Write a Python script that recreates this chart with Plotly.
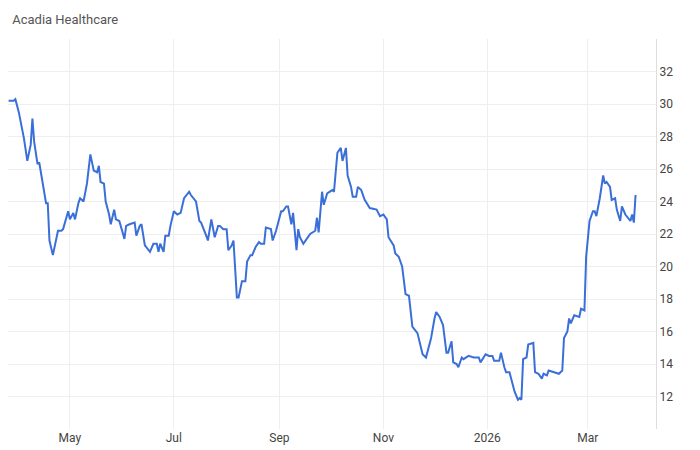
import plotly.graph_objects as go

# Acadia Healthcare daily close
dates = [
    "2025-03-26", "2025-03-29", "2025-03-30", "2025-04-01", "2025-04-04", "2025-04-06",
    "2025-04-08", "2025-04-09", "2025-04-10", "2025-04-12", "2025-04-13", "2025-04-16",
    "2025-04-17", "2025-04-18", "2025-04-19", "2025-04-21", "2025-04-24", "2025-04-26",
    "2025-04-27", "2025-04-30", "2025-05-01", "2025-05-03", "2025-05-04", "2025-05-06",
    "2025-05-07", "2025-05-09", "2025-05-11", "2025-05-13", "2025-05-15", "2025-05-17",
    "2025-05-18", "2025-05-19", "2025-05-21", "2025-05-22", "2025-05-24", "2025-05-25",
    "2025-05-27", "2025-05-28", "2025-05-30", "2025-06-02", "2025-06-03", "2025-06-05",
    "2025-06-08", "2025-06-09", "2025-06-11", "2025-06-12", "2025-06-14", "2025-06-17",
    "2025-06-19", "2025-06-21", "2025-06-22", "2025-06-23", "2025-06-25", "2025-06-26",
    "2025-06-28", "2025-06-29", "2025-07-01", "2025-07-03", "2025-07-05", "2025-07-07",
    "2025-07-10", "2025-07-11", "2025-07-14", "2025-07-16", "2025-07-17", "2025-07-20",
    "2025-07-21", "2025-07-23", "2025-07-25", "2025-07-27", "2025-07-28", "2025-07-30",
    "2025-08-01", "2025-08-02", "2025-08-04", "2025-08-05", "2025-08-07", "2025-08-08",
    "2025-08-10", "2025-08-12", "2025-08-13", "2025-08-15", "2025-08-16", "2025-08-18",
    "2025-08-20", "2025-08-21", "2025-08-23", "2025-08-24", "2025-08-27", "2025-08-28",
    "2025-08-30", "2025-09-02", "2025-09-03", "2025-09-05", "2025-09-06", "2025-09-08",
    "2025-09-09", "2025-09-11", "2025-09-12", "2025-09-13", "2025-09-15", "2025-09-17",
    "2025-09-19", "2025-09-22", "2025-09-23", "2025-09-24", "2025-09-26", "2025-09-27",
    "2025-09-29", "2025-10-02", "2025-10-03", "2025-10-05", "2025-10-07", "2025-10-08",
    "2025-10-10", "2025-10-11", "2025-10-13", "2025-10-14", "2025-10-16", "2025-10-17",
    "2025-10-19", "2025-10-21", "2025-10-24", "2025-10-28", "2025-10-30", "2025-11-01",
    "2025-11-03", "2025-11-04", "2025-11-07", "2025-11-08", "2025-11-10", "2025-11-12",
    "2025-11-14", "2025-11-16", "2025-11-18", "2025-11-21", "2025-11-24", "2025-11-26",
    "2025-11-29", "2025-12-01", "2025-12-02", "2025-12-04", "2025-12-06", "2025-12-08",
    "2025-12-09", "2025-12-11", "2025-12-12", "2025-12-14", "2025-12-15", "2025-12-17",
    "2025-12-18", "2025-12-21", "2025-12-24", "2025-12-27", "2025-12-28", "2025-12-31",
    "2026-01-02", "2026-01-04", "2026-01-05", "2026-01-08", "2026-01-09", "2026-01-11",
    "2026-01-12", "2026-01-14", "2026-01-15", "2026-01-17", "2026-01-19", "2026-01-20",
    "2026-01-21", "2026-01-22", "2026-01-24", "2026-01-25", "2026-01-28", "2026-01-29",
    "2026-01-31", "2026-02-02", "2026-02-03", "2026-02-05", "2026-02-06", "2026-02-09",
    "2026-02-12", "2026-02-14", "2026-02-15", "2026-02-17", "2026-02-18", "2026-02-19",
    "2026-02-21", "2026-02-24", "2026-02-25", "2026-02-27", "2026-02-28", "2026-03-02",
    "2026-03-04", "2026-03-05", "2026-03-06", "2026-03-08", "2026-03-10", "2026-03-11",
    "2026-03-12", "2026-03-14", "2026-03-15", "2026-03-17", "2026-03-18", "2026-03-20",
    "2026-03-21", "2026-03-23", "2026-03-26", "2026-03-27", "2026-03-28", "2026-03-29",
]
prices = [
    30.2, 30.2, 30.3, 29.5, 27.9, 26.5,
    27.5, 29.1, 27.7, 26.3, 26.4, 24.4,
    23.9, 23.9, 21.6, 20.7, 22.2, 22.2,
    22.3, 23.4, 22.9, 23.3, 22.9, 23.9,
    24.2, 24.0, 25.1, 26.9, 25.9, 25.8,
    26.2, 25.2, 25.1, 24.0, 23.2, 22.6,
    23.5, 22.9, 22.8, 21.7, 22.5, 22.6,
    22.7, 21.9, 22.5, 22.6, 21.3, 20.9,
    21.4, 21.4, 20.9, 21.4, 20.9, 21.9,
    21.9, 22.5, 23.4, 23.2, 23.3, 24.2,
    24.6, 24.4, 24.0, 22.8, 22.7, 21.9,
    21.6, 22.9, 21.8, 22.5, 22.5, 22.3,
    22.3, 21.0, 21.3, 21.6, 18.1, 18.1,
    19.1, 19.1, 20.3, 20.7, 20.7, 21.2,
    21.5, 21.4, 21.4, 22.4, 22.3, 21.6,
    22.2, 23.4, 23.4, 23.7, 23.7, 22.6,
    23.3, 21.0, 22.3, 21.8, 21.4, 21.7,
    22.0, 22.2, 23.0, 22.1, 24.6, 23.8,
    24.5, 24.7, 24.6, 27.0, 27.3, 26.5,
    27.3, 25.6, 24.9, 24.3, 24.3, 24.9,
    24.7, 24.1, 23.6, 23.5, 23.1, 23.2,
    22.9, 21.8, 21.3, 20.8, 20.6, 20.0,
    18.3, 18.2, 16.3, 15.9, 14.6, 14.4,
    15.6, 16.8, 17.2, 16.9, 16.4, 14.7,
    14.7, 15.4, 14.1, 14.0, 13.8, 14.4,
    14.3, 14.5, 14.4, 14.4, 14.1, 14.6,
    14.5, 14.5, 14.2, 14.2, 14.7, 13.8,
    13.5, 13.5, 13.1, 12.3, 11.8, 11.9,
    11.8, 14.3, 14.4, 15.2, 15.3, 13.5,
    13.4, 13.1, 13.4, 13.3, 13.6, 13.5,
    13.4, 13.6, 15.6, 16.0, 16.8, 16.5,
    17.0, 16.9, 17.4, 17.3, 20.6, 22.8,
    23.4, 23.4, 23.1, 24.2, 25.6, 25.1,
    25.2, 24.9, 24.1, 24.2, 23.5, 22.8,
    23.7, 23.2, 22.8, 23.2, 22.7, 24.4,
]

y_ticks = [12, 14, 16, 18, 20, 22, 24, 26, 28, 30, 32]
x_ticks = ["2025-05-01", "2025-07-01", "2025-09-01", "2025-11-01", "2026-01-01", "2026-03-01"]
x_labels = ["May", "Jul", "Sep", "Nov", "2026", "Mar"]

fig = go.Figure(go.Scatter(
    x=dates, y=prices, mode="lines",
    line=dict(color="#3a6fd8", width=2),
    hoverinfo="x+y",
))

fig.update_layout(
    width=700, height=450,
    margin=dict(l=0, r=52, t=31, b=29),
    paper_bgcolor="white", plot_bgcolor="white",
    showlegend=False,
    font=dict(family="Roboto, Arial, sans-serif", size=12, color="#444"),
    title=dict(text="Acadia Healthcare", x=0.006, xanchor="left", y=0.985, yanchor="top",
               font=dict(size=13, color="#555")),
)
fig.update_xaxes(
    range=["2025-03-25 16:00", "2026-04-10"],
    tickvals=x_ticks, ticktext=x_labels,
    showgrid=True, gridcolor="#eeeeee", zeroline=False,
    showline=False, ticks="",
)
fig.update_yaxes(
    side="right", range=[10, 34],
    tickvals=y_ticks,
    showgrid=True, gridcolor="#eeeeee", zeroline=False,
    showline=True, linecolor="#dddddd", ticks="",
)

fig.write_html("out.html")
